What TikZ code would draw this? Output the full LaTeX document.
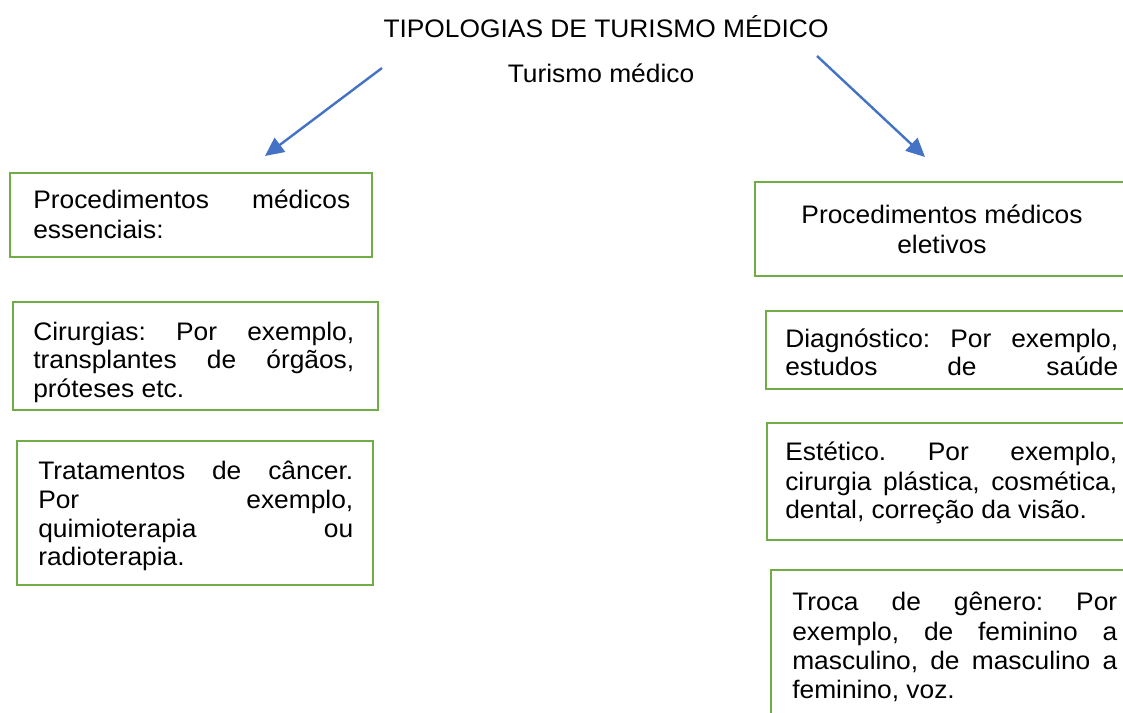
\documentclass[tikz,border=0pt]{standalone}
\usepackage{fontspec}
\setmainfont{Liberation Sans}[FakeStretch=1.04]
\usetikzlibrary{arrows.meta,fit}
\definecolor{boxgreen}{HTML}{70AD47}
\definecolor{arrblue}{HTML}{4472C4}
\newcommand{\jl}[2]{\makebox[#1][s]{#2}}
\frenchspacing
\tikzset{
  box/.style={draw=boxgreen, line width=1.8pt, inner sep=0pt, fill=none},
  txt/.style={inner sep=0pt, font=\fontsize{19}{22}\selectfont, text=black},
  arr/.style={draw=arrblue, line width=1.8pt, -{Triangle[length=14pt,width=13pt]}}
}
\begin{document}
\begin{tikzpicture}[x=0.75pt, y=-0.75pt]
\useasboundingbox (0,0) rectangle (1123,713);
\fill[white] (0,0) rectangle (1123,713);
\clip (0,0) rectangle (1123,713);

% title
\node[txt, anchor=base] (title) at (606,38) {TIPOLOGIAS DE TURISMO MÉDICO};
\node[txt, anchor=base] (sub) at (601,83) {Turismo médico};

% arrows
\coordinate (a1s) at (382,68);
\coordinate (a1e) at (265,156);
\coordinate (a2s) at (817,56);
\coordinate (a2e) at (925,157);
\draw[arr] (a1s) -- (a1e);
\draw[arr] (a2s) -- (a2e);

% left boxes
\node[box, fit={(10,173) (372,257)}] (b1) {};
\node[txt, anchor=base west] (t1a) at (33,208) {\jl{237.75pt}{Procedimentos médicos}};
\node[txt, anchor=base west] (t1b) at (33,238) {essenciais:};

\node[box, fit={(13,302) (378,410)}] (b2) {};
\node[txt, anchor=base west] (t2a) at (33,340) {\jl{240.75pt}{Cirurgias: Por exemplo,}};
\node[txt, anchor=base west] (t2b) at (33,368) {\jl{240.75pt}{transplantes de órgãos,}};
\node[txt, anchor=base west] (t2c) at (33,397) {próteses etc.};

\node[box, fit={(17,441) (373,585)}] (b3) {};
\node[txt, anchor=base west] (t3a) at (38,479) {\jl{236.25pt}{Tratamentos de câncer.}};
\node[txt, anchor=base west] (t3b) at (38,508) {\jl{236.25pt}{Por exemplo,}};
\node[txt, anchor=base west] (t3c) at (38,537) {\jl{236.25pt}{quimioterapia ou}};
\node[txt, anchor=base west] (t3d) at (38,565) {radioterapia.};

% right boxes
\node[box, fit={(755,182) (1140,276)}] (b4) {};
\node[txt, anchor=base] (t4a) at (942,223) {Procedimentos médicos};
\node[txt, anchor=base] (t4b) at (942,253) {eletivos};

\node[box, fit={(766,311) (1140,389)}] (b5) {};
\node[txt, anchor=base west] (t5a) at (785,347) {\jl{249.75pt}{Diagnóstico: Por exemplo,}};
\node[txt, anchor=base west] (t5b) at (785,375) {\jl{249.75pt}{estudos de saúde}};

\node[box, fit={(767,423) (1140,540)}] (b6) {};
\node[txt, anchor=base west] (t6a) at (785,460) {\jl{249pt}{Estético. Por exemplo,}};
\node[txt, anchor=base west] (t6b) at (785,490) {\jl{249pt}{cirurgia plástica, cosmética,}};
\node[txt, anchor=base west] (t6c) at (785,518) {dental, correção da visão.};

\node[box, fit={(771,570) (1140,730)}] (b7) {};
\node[txt, anchor=base west] (t7a) at (792,610) {\jl{243.75pt}{Troca de gênero: Por}};
\node[txt, anchor=base west] (t7b) at (792,640) {\jl{243.75pt}{exemplo, de feminino a}};
\node[txt, anchor=base west] (t7c) at (792,669) {\jl{243.75pt}{masculino, de masculino a}};
\node[txt, anchor=base west] (t7d) at (792,698) {feminino, voz.};
\end{tikzpicture}
\end{document}
